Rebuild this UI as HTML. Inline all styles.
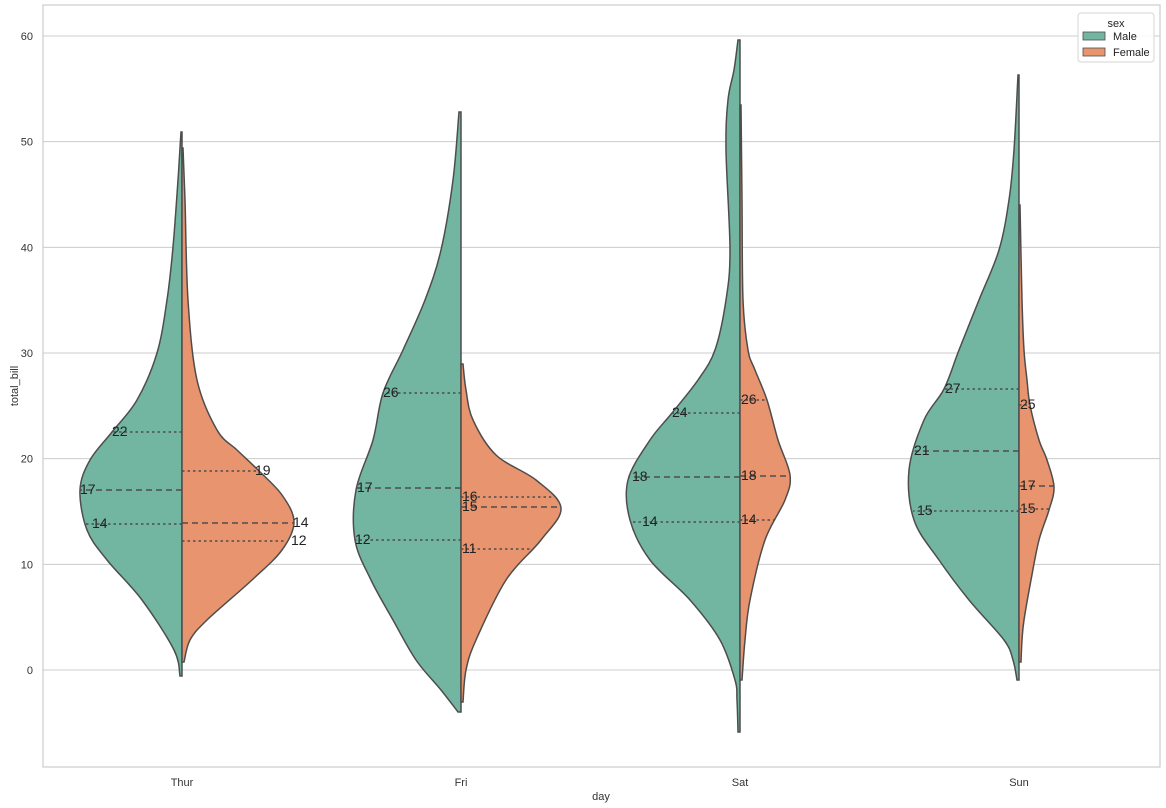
<!DOCTYPE html>
<html><head><meta charset="utf-8"><style>body{margin:0;background:#fff}svg{display:block;font-family:"Liberation Sans",sans-serif}</style></head>
<body>
<svg id="s" width="1166" height="808" viewBox="0 0 1166 808"></svg>
<script>
const S=document.getElementById('s');let h='';
const Y=v=>670-10.567*v;
h+='<rect x="43" y="5" width="1117" height="762" fill="#fff" stroke="#cccccc" stroke-width="1.2"/>';
for(let v=0;v<=60;v+=10){const y=Y(v);h+=`<line x1="43" x2="1160" y1="${y}" y2="${y}" stroke="#cccccc" stroke-width="1"/><text x="33" y="${y+4}" font-size="11" fill="#333" text-anchor="end">${v}</text>`;}
h+='<text x="18" y="386" font-size="11" fill="#333" text-anchor="middle" transform="rotate(-90 18 386)">total_bill</text>';
h+='<text x="601" y="800" font-size="11" fill="#333" text-anchor="middle">day</text>';
const days=[['Thur',182],['Fri',461],['Sat',740],['Sun',1019]];
days.forEach(d=>h+=`<text x="${d[1]}" y="786" font-size="11" fill="#333" text-anchor="middle">${d[0]}</text>`);
// profiles: [y,width] bottom->top
const V=[
 {cx:182,m:[[676,2],[650,8],[600,40],[560,75],[530,95],[490,102],[460,92],[432,70],[400,45],[353,25],[300,15],[247,9],[180,4],[132,1]],
  f:[[662,2],[640,8],[620,25],[580,70],[550,100],[522,112],[495,100],[469,75],[450,55],[430,35],[380,15],[300,6],[200,3],[148,1]]},
 {cx:461,m:[[712,3],[690,20],[660,45],[620,68],[580,90],[540,106],[490,105],[440,88],[393,78],[350,58],[300,36],[250,20],[180,8],[112,2]],
  f:[[702,2],[670,5],[640,15],[580,45],[540,80],[508,100],[480,75],[455,35],[420,12],[390,5],[364,2]]},
 {cx:740,m:[[732,2],[700,3],[680,5],[640,20],[600,50],[560,90],[520,110],[480,112],[440,90],[413,68],[380,42],[350,25],[300,14],[250,10],[150,14],[100,12],[70,6],[40,2]],
  f:[[680,2],[640,5],[600,10],[540,25],[500,45],[475,50],[440,38],[400,27],[370,15],[350,8],[300,3],[200,2],[105,1]]},
 {cx:1019,m:[[680,2],[660,6],[640,15],[600,50],[560,80],[520,105],[470,110],[420,95],[389,75],[350,60],[300,40],[250,20],[200,10],[150,5],[75,1]],
  f:[[662,2],[640,3],[620,5],[580,12],[540,20],[510,30],[487,35],[460,28],[440,20],[405,11],[380,8],[350,5],[300,3],[205,1]]}
];
function cr(pts){let p=`M${pts[0][0]},${pts[0][1]}`;for(let i=0;i<pts.length-1;i++){const p0=pts[i-1]||pts[i],p1=pts[i],p2=pts[i+1],p3=pts[i+2]||p2;p+=` C${p1[0]+(p2[0]-p0[0])/6},${p1[1]+(p2[1]-p0[1])/6} ${p2[0]-(p3[0]-p1[0])/6},${p2[1]-(p3[1]-p1[1])/6} ${p2[0]},${p2[1]}`;}return p;}
function wAt(pr,y){for(let i=0;i<pr.length-1;i++){const a=pr[i],b=pr[i+1];if(y<=a[0]&&y>=b[0]){return a[1]+(b[1]-a[1])*(a[0]-y)/(a[0]-b[0]);}}return 0;}
V.forEach(v=>{
 const pm=v.m.map(q=>[v.cx-q[1],q[0]]);
 h+=`<path d="${cr(pm)} L${v.cx},${v.m[v.m.length-1][0]} L${v.cx},${v.m[0][0]} Z" fill="#72b6a1" stroke="#4d4d4d" stroke-width="1.5"/>`;
 const pf=v.f.map(q=>[v.cx+q[1],q[0]]);
 h+=`<path d="${cr(pf)} L${v.cx},${v.f[v.f.length-1][0]} L${v.cx},${v.f[0][0]} Z" fill="#e8946f" stroke="#4d4d4d" stroke-width="1.5"/>`;
});
// quartiles: [dayIdx, side, y, label, labelX, median]
const Q=[[0,'m',432,'22',112,0],[0,'m',490,'17',80,1],[0,'m',524,'14',92,0],
[0,'f',471,'19',255,0],[0,'f',523,'14',293,1],[0,'f',541,'12',291,0],
[1,'m',393,'26',383,0],[1,'m',488,'17',357,1],[1,'m',540,'12',355,0],
[1,'f',497,'16',462,0],[1,'f',507,'15',462,1],[1,'f',549,'11',462,0],
[2,'m',413,'24',672,0],[2,'m',477,'18',632,1],[2,'m',522,'14',642,0],
[2,'f',400,'26',741,0],[2,'f',476,'18',741,1],[2,'f',520,'14',741,0],
[3,'m',389,'27',945,0],[3,'m',451,'21',914,1],[3,'m',511,'15',917,0],
[3,'f',405,'25',1020,0],[3,'f',486,'17',1020,1],[3,'f',509,'15',1020,0]];
Q.forEach(q=>{const v=V[q[0]];const w=wAt(v[q[1]],q[2]);const x2=q[1]=='m'?v.cx-w:v.cx+w;
 h+=`<line x1="${v.cx}" x2="${x2}" y1="${q[2]}" y2="${q[2]}" stroke="#4d4d4d" stroke-width="1.6" stroke-dasharray="${q[5]?'6,4':'2.5,3'}"/>`;
 h+=`<text x="${q[4]}" y="${q[2]+4}" font-size="14" fill="#222">${q[3]}</text>`;});
// legend
h+='<rect x="1078" y="13" width="76" height="49" rx="3" fill="#fff" fill-opacity="0.85" stroke="#d6d6d6"/>';
h+='<text x="1116" y="27" font-size="11" fill="#222" text-anchor="middle">sex</text>';
h+='<rect x="1083" y="32" width="22" height="8" fill="#72b6a1" stroke="#4d4d4d" stroke-width="0.8"/><text x="1113" y="40" font-size="11" fill="#222">Male</text>';
h+='<rect x="1083" y="48" width="22" height="8" fill="#e8946f" stroke="#4d4d4d" stroke-width="0.8"/><text x="1113" y="56" font-size="11" fill="#222">Female</text>';
S.innerHTML=h;
</script>
</body></html>
